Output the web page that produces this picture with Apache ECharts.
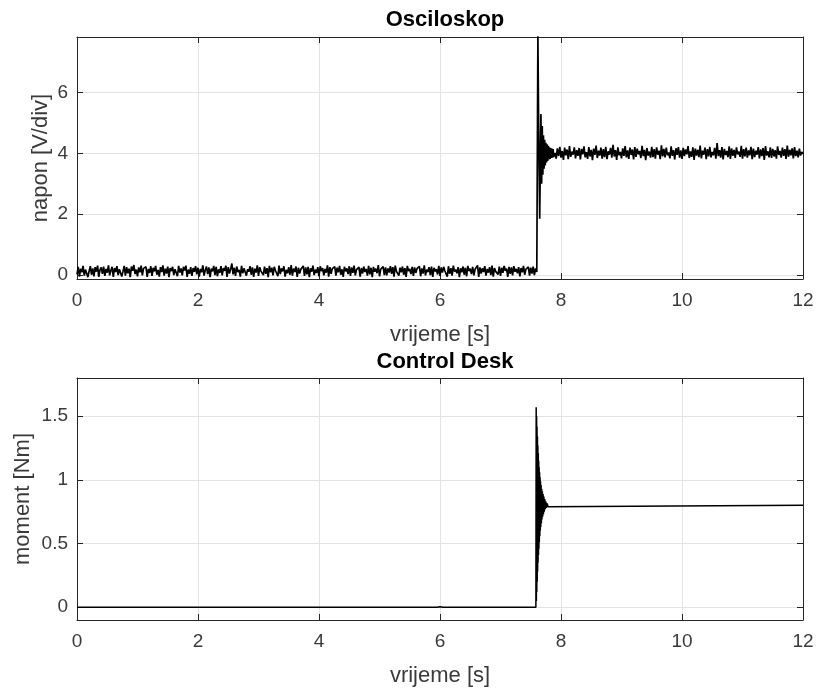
<!DOCTYPE html>
<html>
<head>
<meta charset="utf-8">
<script src="https://cdn.jsdelivr.net/npm/echarts@6/dist/echarts.min.js"></script>
<style>
html,body{margin:0;padding:0;background:#fff;}
#chart{width:817px;height:689px;}
</style>
</head>
<body>
<div id="chart"></div>
<script>
// ---------- DATA ----------
const titles = ['Osciloskop', 'Control Desk'];
const xLabel = 'vrijeme [s]';
const yLabels = ['napon [V/div]', 'moment [Nm]'];
const xTicks = [0, 2, 4, 6, 8, 10, 12];
const yTicksTop = [0, 2, 4, 6];
const yTicksBottom = [0, 0.5, 1, 1.5];

// Osciloskop: noise before the step, sampled every 0.02 s from 0 s
const scopeSampleStep = 0.02;
const scopePreStart = 0;
const scopePre = [
  0.02,0.27,-0.05,0.21,0.09,0.30,-0.02,0.18,0.24,-0.07,0.13,0.29,0.01,0.22,-0.04,0.26,0.11,0.31,-0.06,0.17,
  0.25,0.04,0.28,-0.03,0.20,0.08,0.32,-0.01,0.15,0.27,-0.06,0.23,0.10,0.29,0.00,0.19,0.24,-0.05,0.12,0.30,
  -0.02,0.26,0.06,0.21,-0.07,0.28,0.14,0.33,0.03,0.18,-0.04,0.25,0.09,0.31,-0.01,0.22,0.16,0.27,-0.06,0.20,
  0.07,0.29,-0.03,0.24,0.12,0.30,0.01,0.17,-0.05,0.26,0.10,0.32,-0.02,0.21,0.05,0.28,-0.07,0.23,0.13,0.27,
  0.00,0.19,0.25,-0.04,0.30,0.08,0.22,-0.01,0.27,0.15,0.31,-0.06,0.18,0.04,0.26,-0.03,0.23,0.11,0.29,0.02,
  0.24,-0.05,0.20,0.09,0.32,-0.02,0.16,0.28,0.03,0.25,-0.07,0.21,0.12,0.30,0.00,0.27,-0.04,0.19,0.07,0.29,
  -0.01,0.23,0.14,0.31,-0.06,0.26,0.05,0.20,0.38,0.02,0.24,-0.03,0.28,0.10,0.17,-0.05,0.30,0.06,0.22,0.27,
  -0.02,0.19,0.11,0.29,0.01,0.25,-0.06,0.21,0.08,0.32,-0.03,0.26,0.13,0.18,0.00,0.28,0.04,0.23,-0.07,0.30,
  0.09,0.24,-0.01,0.27,0.15,0.20,-0.04,0.31,0.03,0.22,0.12,0.29,-0.05,0.17,0.06,0.26,0.01,0.33,-0.02,0.21,
  0.10,0.28,-0.06,0.24,0.05,0.19,0.14,0.30,-0.03,0.25,0.02,0.27,-0.07,0.22,0.11,0.31,0.00,0.18,0.07,0.26,
  -0.04,0.29,0.13,0.23,-0.01,0.20,0.08,0.32,-0.05,0.26,0.04,0.21,0.16,0.28,-0.02,0.24,0.09,0.30,0.01,0.19,
  -0.06,0.27,0.12,0.22,0.03,0.29,-0.03,0.25,0.07,0.31,-0.01,0.18,0.14,0.26,-0.05,0.23,0.05,0.28,0.10,0.20,
  -0.02,0.30,0.02,0.24,-0.07,0.27,0.11,0.21,0.06,0.33,-0.04,0.19,0.15,0.28,0.00,0.25,-0.01,0.22,0.08,0.29,
  0.04,0.26,-0.05,0.31,0.12,0.17,-0.02,0.24,0.09,0.28,0.01,0.23,-0.06,0.30,0.13,0.20,0.03,0.27,-0.03,0.25,
  0.07,0.21,0.16,0.29,-0.04,0.22,0.05,0.32,-0.01,0.18,0.10,0.26,0.00,0.28,-0.06,0.24,0.12,0.19,0.02,0.30,
  -0.03,0.25,0.08,0.27,0.14,0.20,-0.05,0.29,0.04,0.23,-0.02,0.31,0.11,0.18,0.06,0.26,-0.07,0.22,0.09,0.28,
  0.01,0.24,-0.04,0.30,0.13,0.21,0.03,0.27,-0.01,0.19,0.15,0.32,-0.06,0.25,0.05,0.22,0.10,0.29,-0.02,0.20,
  0.08,0.26,0.00,0.31,-0.05,0.23,0.12,0.18,0.02,0.28,-0.03,0.24,0.07,0.30,0.14,0.21,-0.06,0.27,0.04,0.25,
  -0.01,0.29,0.11,0.20,0.06,0.26,-0.04,0.23,0.09,0.30,0.01,0.19,0.13,0.27,-0.02,0.24,0.05,0.28,0.00,0.22,
  0.10
];
// step transient
const scopeStepT = [7.612,7.618,7.63,7.648,7.668,7.68,7.69,7.70,7.71,7.72,7.73,7.74,7.75,7.76,7.77,7.78,7.79,7.80,7.81,7.82,7.83,7.84,7.85,7.86,7.87,7.88];
const scopeStepV = [0.10,7.9,5.0,1.85,5.3,3.0,4.9,3.3,4.6,3.5,4.45,3.6,4.35,3.7,4.3,3.75,4.25,3.8,4.2,3.82,4.18,3.85,4.16,3.86,4.14,3.88];
// noise after the step, sampled every 0.02 s from 7.9 s
const scopePostStart = 7.9;
const scopePost = [
  4.02,3.83,4.17,3.91,4.22,3.86,4.08,3.79,4.19,3.94,4.13,3.81,4.24,3.89,4.06,3.96,4.20,3.84,4.11,3.92,
  4.18,3.80,4.15,3.97,4.23,3.87,4.04,3.82,4.21,3.90,4.12,3.78,4.16,3.95,4.26,3.85,4.09,3.93,4.19,3.83,
  4.14,3.88,4.22,3.81,4.07,3.96,4.18,3.86,4.28,3.90,4.11,3.79,4.20,3.94,4.05,3.84,4.17,3.92,4.24,3.87,
  4.10,3.82,4.19,3.95,4.13,3.80,4.21,3.89,4.16,3.97,4.08,3.85,4.25,3.91,4.12,3.78,4.18,3.93,4.06,3.86,
  4.22,3.88,4.14,3.83,4.20,3.96,4.09,3.81,4.27,3.90,4.15,3.87,4.19,3.94,4.03,3.84,4.23,3.92,4.11,3.80,
  4.17,3.95,4.21,3.86,4.10,3.82,4.18,3.91,4.13,3.97,4.24,3.85,4.07,3.89,4.20,3.79,4.16,3.93,4.12,3.88,
  4.26,3.84,4.09,3.96,4.19,3.81,4.14,3.90,4.22,3.87,4.05,3.94,4.18,3.83,4.34,3.91,4.11,3.86,4.21,3.80,
  4.15,3.95,4.08,3.88,4.23,3.82,4.17,3.92,4.12,3.85,4.20,3.97,4.06,3.89,4.25,3.83,4.14,3.90,4.19,3.86,
  4.10,3.94,4.22,3.81,4.16,3.88,4.09,3.96,4.21,3.84,4.13,3.91,4.18,3.79,4.24,3.93,4.07,3.87,4.20,3.85,
  4.15,3.90,4.11,3.83,4.23,3.95,4.08,3.86,4.19,3.92,4.14,3.82,4.26,3.89,4.12,3.94,4.17,3.84,4.21,3.91,
  4.09,3.87,4.16,3.93,4.05,3.98
];

// Control Desk
const deskT = [0,1.22,1.25,1.28,5.95,6.0,6.05,7.585,
  7.59,7.593,7.597,7.600,7.604,7.607,7.611,7.614,7.618,7.621,7.625,7.628,7.632,7.635,7.639,7.642,7.646,7.650,
  7.654,7.658,7.662,7.666,7.671,7.676,7.681,7.686,7.692,7.698,7.704,7.710,7.717,7.724,7.732,7.740,7.750,7.760,
  7.772,7.785,7.80,12];
const deskV = [0,0,0.008,0,0,0.004,0,0,
  1.57,0.05,1.50,0.12,1.42,0.20,1.34,0.28,1.27,0.35,1.21,0.41,1.15,0.46,1.10,0.51,1.06,0.56,
  1.02,0.60,0.99,0.63,0.96,0.66,0.93,0.69,0.91,0.71,0.89,0.73,0.87,0.75,0.85,0.77,0.83,0.78,
  0.815,0.79,0.80,0.80];

// ---------- BUILD ----------
const scopeData = [];
scopePre.forEach((v, i) => scopeData.push([+(scopePreStart + i * scopeSampleStep).toFixed(3), v]));
scopeStepT.forEach((t, i) => scopeData.push([t, scopeStepV[i]]));
scopePost.forEach((v, i) => scopeData.push([+(scopePostStart + i * scopeSampleStep).toFixed(3), v]));
const deskData = deskT.map((t, i) => [t, deskV[i]]);

const FONT = "'Liberation Sans', Arial, Helvetica, sans-serif";
const AX = '#262626';
const LBL = '#3a3a3a';
const GRIDC = '#e3e3e3';

const grids = [
  {left: 77, top: 37, width: 726, height: 242},
  {left: 77, top: 378, width: 726, height: 242}
];

function inList(list, v){ return list.some(x => Math.abs(x - v) < 1e-6); }

function xMain(gi){
  return {
    type: 'value', gridIndex: gi, min: 0, max: 12, interval: 2, position: 'bottom',
    name: xLabel, nameLocation: 'middle', nameGap: 45, nameMoveOverlap: false,
    nameTextStyle: {fontFamily: FONT, fontSize: 22, color: LBL},
    axisLine: {show: true, onZero: false, lineStyle: {color: AX, width: 1}},
    axisTick: {show: true, inside: true, length: 6, lineStyle: {color: AX}},
    axisLabel: {show: true, margin: 12, fontFamily: FONT, fontSize: 19, color: LBL,
      formatter: v => inList(xTicks, v) ? String(v) : ''},
    splitLine: {show: true, lineStyle: {color: GRIDC, width: 1}}
  };
}
function xTop(gi){
  return {
    type: 'value', gridIndex: gi, min: 0, max: 12, interval: 2, position: 'top',
    axisLine: {show: true, onZero: false, lineStyle: {color: AX, width: 1}},
    axisTick: {show: true, inside: true, length: 6, lineStyle: {color: AX}},
    axisLabel: {show: false}, splitLine: {show: false}
  };
}
function yMain(gi, min, max, ticks, name, gap){
  return {
    type: 'value', gridIndex: gi, min: min, max: max, splitNumber: 4, position: 'left',
    name: name, nameLocation: 'middle', nameGap: gap, nameRotate: 90, nameMoveOverlap: false,
    nameTextStyle: {fontFamily: FONT, fontSize: 22, color: LBL},
    axisLine: {show: true, onZero: false, lineStyle: {color: AX, width: 1}},
    axisTick: {show: true, inside: true, length: 6, lineStyle: {color: AX}},
    axisLabel: {show: true, margin: 9, fontFamily: FONT, fontSize: 19, color: LBL,
      formatter: v => inList(ticks, v) ? String(v) : ''},
    splitLine: {show: true, lineStyle: {color: GRIDC, width: 1}}
  };
}
function yRight(gi, min, max){
  return {
    type: 'value', gridIndex: gi, min: min, max: max, splitNumber: 4, position: 'right',
    axisLine: {show: true, onZero: false, lineStyle: {color: AX, width: 1}},
    axisTick: {show: true, inside: true, length: 6, lineStyle: {color: AX}},
    axisLabel: {show: false}, splitLine: {show: false}
  };
}

const chart = echarts.init(document.getElementById('chart'), null, {renderer: 'canvas'});
chart.setOption({
  animation: false,
  backgroundColor: '#fff',
  title: [
    {text: titles[0], left: 440, top: 4, textAlign: 'center',
      textStyle: {fontFamily: FONT, fontSize: 22, fontWeight: 'bold', color: '#000'}},
    {text: titles[1], left: 440, top: 346, textAlign: 'center',
      textStyle: {fontFamily: FONT, fontSize: 22, fontWeight: 'bold', color: '#000'}}
  ],
  grid: grids,
  xAxis: [xMain(0), xTop(0), xMain(1), xTop(1)],
  yAxis: [
    yMain(0, -0.13, 7.83, yTicksTop, yLabels[0], 25),
    yRight(0, -0.13, 7.83),
    yMain(1, -0.1, 1.8, yTicksBottom, yLabels[1], 43),
    yRight(1, -0.1, 1.8)
  ],
  series: [
    {type: 'line', xAxisIndex: 0, yAxisIndex: 0, data: scopeData, showSymbol: false, clip: true,
      sampling: null, lineStyle: {color: '#000', width: 1.7}},
    {type: 'line', xAxisIndex: 2, yAxisIndex: 2, data: deskData, showSymbol: false, clip: true,
      lineStyle: {color: '#000', width: 1.5}}
  ]
});
</script>
</body>
</html>
